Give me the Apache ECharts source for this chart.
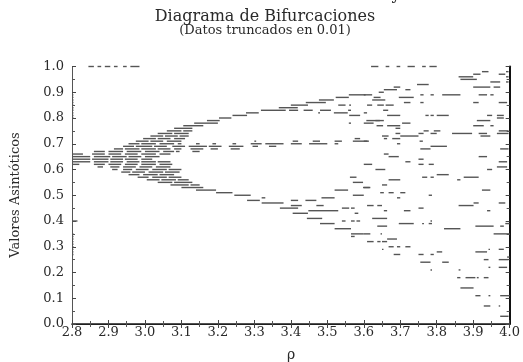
<!DOCTYPE html>
<html>
<head>
<meta charset="utf-8">
<script src="https://cdn.jsdelivr.net/npm/echarts@6/dist/echarts.min.js"></script>
<style>
  html, body { margin: 0; padding: 0; background: #fff; }
  #chart { width: 523px; height: 362px; }
</style>
</head>
<body>
<div id="chart"></div>
<script>
// Logistic-map style bifurcation data, values truncated to 0.01.
// Each entry is a run of consecutive ρ with the same truncated value: [ρ start, ρ end, value]

const rhoRange = [2.8, 4.0];
const valueRange = [0.0, 1.0];

// transient iterates sitting on ρ = 2.80
const edgeColumn = [
  [2.800, 2.804, 0.89], [2.800, 2.804, 0.88], [2.800, 2.804, 0.87], [2.800, 2.804, 0.86],
  [2.800, 2.804, 0.85], [2.800, 2.804, 0.84], [2.800, 2.804, 0.83], [2.800, 2.804, 0.82],
  [2.800, 2.804, 0.81], [2.800, 2.804, 0.80],
  [2.800, 2.815, 0.40],
  [2.800, 2.804, 0.35], [2.800, 2.804, 0.34], [2.800, 2.804, 0.33], [2.800, 2.804, 0.32],
  [2.800, 2.804, 0.31], [2.800, 2.804, 0.30], [2.800, 2.804, 0.29], [2.800, 2.804, 0.28],
  [2.800, 2.804, 0.27]
];

// iterates reaching the top of the range
const topEdge = [
  [2.845, 2.860, 1.0], [2.870, 2.880, 1.0], [2.890, 2.905, 1.0], [2.915, 2.925, 1.0],
  [2.940, 2.950, 1.0], [2.960, 2.985, 1.0],
  [3.620, 3.640, 1.0], [3.660, 3.670, 1.0], [3.690, 3.700, 1.0], [3.720, 3.740, 1.0],
  [3.760, 3.770, 1.0], [3.780, 3.800, 1.0]
];

// slowly converging transients around the fixed point and first doubling
const fanUpper = [
  [2.800, 2.830, 0.66], [2.855, 2.890, 0.66], [2.900, 2.935, 0.66], [2.945, 2.980, 0.66], [2.990, 3.030, 0.66], [3.040, 3.070, 0.66],
  [2.860, 2.890, 0.67], [2.900, 2.940, 0.67], [2.950, 2.990, 0.67], [3.000, 3.040, 0.67], [3.050, 3.080, 0.67],
  [2.915, 2.940, 0.68], [2.945, 2.985, 0.68], [2.990, 3.030, 0.68], [3.035, 3.070, 0.68],
  [2.940, 2.970, 0.69], [2.975, 3.020, 0.69], [3.025, 3.060, 0.69],
  [2.955, 2.985, 0.70], [2.990, 3.030, 0.70], [3.040, 3.080, 0.70],
  [2.975, 3.010, 0.71], [3.015, 3.050, 0.71], [3.060, 3.100, 0.71],
  [2.995, 3.030, 0.72], [3.035, 3.070, 0.72], [3.080, 3.110, 0.72],
  [3.015, 3.050, 0.73], [3.055, 3.090, 0.73], [3.095, 3.120, 0.73],
  [3.035, 3.075, 0.74], [3.080, 3.120, 0.74],
  [3.060, 3.100, 0.75], [3.105, 3.130, 0.75],
  [3.080, 3.130, 0.76],
  [3.105, 3.160, 0.77],
  [3.135, 3.200, 0.78]
];

const fanLower = [
  [2.800, 2.850, 0.65], [2.860, 2.905, 0.65], [2.910, 2.950, 0.65], [2.955, 2.990, 0.65], [3.000, 3.040, 0.65],
  [2.800, 2.850, 0.64], [2.855, 2.900, 0.64], [2.905, 2.940, 0.64], [2.945, 2.980, 0.64], [2.990, 3.020, 0.64],
  [2.800, 2.850, 0.63], [2.860, 2.900, 0.63], [2.905, 2.940, 0.63], [2.950, 2.985, 0.63], [2.990, 3.030, 0.63], [3.035, 3.070, 0.63],
  [2.800, 2.820, 0.62], [2.860, 2.890, 0.62], [2.900, 2.935, 0.62], [2.945, 2.980, 0.62], [2.990, 3.030, 0.62], [3.040, 3.075, 0.62],
  [2.870, 2.885, 0.61], [2.905, 2.930, 0.61], [2.940, 2.975, 0.61], [2.985, 3.020, 0.61], [3.030, 3.070, 0.61],
  [2.910, 2.925, 0.60], [2.940, 2.965, 0.60], [2.975, 3.010, 0.60], [3.020, 3.060, 0.60], [3.065, 3.100, 0.60],
  [2.935, 2.960, 0.59], [2.965, 3.000, 0.59], [3.010, 3.050, 0.59], [3.055, 3.095, 0.59],
  [2.955, 2.985, 0.58], [2.995, 3.035, 0.58], [3.040, 3.080, 0.58],
  [2.980, 3.010, 0.57], [3.020, 3.060, 0.57], [3.065, 3.100, 0.57],
  [3.005, 3.040, 0.56], [3.045, 3.085, 0.56], [3.090, 3.120, 0.56],
  [3.035, 3.075, 0.55], [3.080, 3.130, 0.55],
  [3.070, 3.120, 0.54], [3.125, 3.150, 0.54],
  [3.100, 3.160, 0.53],
  [3.140, 3.195, 0.52]
];

// upper branch of the 2-cycle and its doublings
const upperBranch = [
  [3.170, 3.205, 0.79], [3.203, 3.237, 0.80], [3.240, 3.280, 0.81], [3.277, 3.312, 0.82],
  [3.318, 3.386, 0.83], [3.367, 3.419, 0.84], [3.400, 3.447, 0.85], [3.441, 3.496, 0.86],
  [3.477, 3.518, 0.87], [3.523, 3.559, 0.88], [3.559, 3.605, 0.89],
  [3.395, 3.420, 0.83], [3.435, 3.460, 0.83], [3.480, 3.510, 0.83],
  [3.475, 3.480, 0.82], [3.518, 3.556, 0.82], [3.530, 3.550, 0.85], [3.560, 3.565, 0.85],
  [3.557, 3.565, 0.83], [3.560, 3.590, 0.81], [3.559, 3.565, 0.78]
];

// unstable fixed point neighbourhood
const middleBand = [
  [3.075, 3.110, 0.69], [3.080, 3.100, 0.68], [3.085, 3.095, 0.67], [3.090, 3.100, 0.70],
  [3.120, 3.170, 0.69], [3.125, 3.160, 0.68], [3.130, 3.150, 0.67], [3.140, 3.150, 0.70],
  [3.175, 3.210, 0.69], [3.180, 3.200, 0.68], [3.185, 3.195, 0.70],
  [3.230, 3.270, 0.69], [3.235, 3.260, 0.68], [3.240, 3.250, 0.70],
  [3.290, 3.320, 0.70], [3.295, 3.310, 0.69], [3.300, 3.305, 0.71],
  [3.330, 3.380, 0.70], [3.340, 3.360, 0.69],
  [3.400, 3.430, 0.70], [3.405, 3.420, 0.71],
  [3.450, 3.500, 0.70], [3.460, 3.480, 0.71],
  [3.520, 3.540, 0.71], [3.520, 3.530, 0.70],
  [3.570, 3.610, 0.71], [3.575, 3.590, 0.72]
];

// lower branch of the 2-cycle and its doublings
const lowerBranch = [
  [3.195, 3.240, 0.51], [3.245, 3.290, 0.50], [3.280, 3.315, 0.48], [3.320, 3.380, 0.47],
  [3.370, 3.420, 0.45], [3.405, 3.447, 0.43], [3.444, 3.486, 0.41], [3.480, 3.520, 0.39],
  [3.520, 3.565, 0.37], [3.565, 3.600, 0.35],
  [3.320, 3.330, 0.49], [3.448, 3.530, 0.44], [3.400, 3.430, 0.46], [3.470, 3.490, 0.46],
  [3.440, 3.470, 0.48], [3.400, 3.420, 0.48], [3.484, 3.520, 0.49], [3.520, 3.557, 0.52],
  [3.540, 3.560, 0.45], [3.565, 3.575, 0.45], [3.575, 3.585, 0.43],
  [3.540, 3.550, 0.40], [3.565, 3.575, 0.40], [3.580, 3.590, 0.40],
  [3.565, 3.575, 0.34], [3.570, 3.600, 0.50], [3.562, 3.580, 0.57], [3.570, 3.598, 0.55],
  [3.598, 3.616, 0.53]
];

// chaotic regime, upper half
const chaosUpper = [
  [3.860, 3.900, 0.96], [3.865, 3.910, 0.95], [3.924, 3.942, 0.98], [3.900, 3.920, 0.97],
  [3.947, 3.974, 0.94], [3.970, 3.988, 0.97], [3.990, 3.997, 0.94], [3.990, 3.997, 0.96],
  [3.990, 3.997, 0.98], [3.746, 3.778, 0.93], [3.655, 3.691, 0.91], [3.682, 3.700, 0.92],
  [3.714, 3.728, 0.91], [3.600, 3.623, 0.89], [3.641, 3.655, 0.90], [3.696, 3.737, 0.88],
  [3.755, 3.764, 0.89], [3.783, 3.792, 0.89], [3.815, 3.865, 0.89], [3.900, 3.947, 0.92],
  [3.956, 3.974, 0.92], [3.915, 3.938, 0.89], [3.947, 3.956, 0.89], [3.623, 3.659, 0.87],
  [3.627, 3.646, 0.88], [3.609, 3.623, 0.85], [3.637, 3.655, 0.85], [3.710, 3.728, 0.86],
  [3.755, 3.764, 0.86], [3.900, 3.915, 0.86], [3.970, 3.993, 0.86], [3.660, 3.682, 0.85],
  [3.664, 3.700, 0.81], [3.769, 3.778, 0.81], [3.783, 3.792, 0.81], [3.800, 3.833, 0.81],
  [3.938, 3.952, 0.81], [3.965, 3.984, 0.81], [3.965, 3.984, 0.80], [3.600, 3.609, 0.82],
  [3.632, 3.655, 0.79], [3.600, 3.627, 0.78], [3.910, 3.947, 0.79], [3.705, 3.728, 0.78],
  [3.664, 3.700, 0.77], [3.687, 3.700, 0.76], [3.900, 3.929, 0.77], [3.947, 3.956, 0.77],
  [3.764, 3.778, 0.75], [3.792, 3.810, 0.75], [3.970, 3.997, 0.75], [3.650, 3.668, 0.73],
  [3.687, 3.700, 0.74], [3.700, 3.750, 0.73], [3.750, 3.764, 0.74], [3.783, 3.800, 0.74],
  [3.842, 3.897, 0.74], [3.915, 3.938, 0.74], [3.965, 3.997, 0.74], [3.600, 3.614, 0.71],
  [3.655, 3.664, 0.72], [3.678, 3.700, 0.72], [3.920, 3.947, 0.73], [3.755, 3.783, 0.68],
  [3.783, 3.828, 0.69], [3.691, 3.700, 0.70], [3.668, 3.696, 0.65], [3.655, 3.668, 0.66],
  [3.750, 3.764, 0.64], [3.915, 3.938, 0.65], [3.970, 3.993, 0.63], [3.974, 3.997, 0.68],
  [3.600, 3.623, 0.62], [3.632, 3.659, 0.60], [3.714, 3.728, 0.63], [3.750, 3.764, 0.62],
  [3.778, 3.792, 0.62], [3.800, 3.833, 0.58], [3.874, 3.915, 0.57], [3.938, 3.952, 0.60],
  [3.965, 3.993, 0.61], [3.668, 3.700, 0.56], [3.760, 3.774, 0.57], [3.783, 3.792, 0.57],
  [3.600, 3.618, 0.53], [3.650, 3.664, 0.54], [3.856, 3.865, 0.56], [3.924, 3.947, 0.52],
  [3.700, 3.714, 0.51], [3.607, 3.644, 0.79], [3.635, 3.653, 0.77], [3.653, 3.667, 0.83],
  [3.753, 3.762, 0.71]
];

// chaotic regime, lower half
const chaosLower = [
  [3.645, 3.655, 0.51], [3.668, 3.682, 0.51], [3.691, 3.700, 0.49], [3.778, 3.787, 0.50],
  [3.609, 3.627, 0.46], [3.637, 3.650, 0.46], [3.655, 3.664, 0.44], [3.710, 3.728, 0.44],
  [3.750, 3.764, 0.45], [3.860, 3.901, 0.46], [3.901, 3.915, 0.47], [3.938, 3.947, 0.44],
  [3.970, 3.988, 0.47], [3.623, 3.664, 0.41], [3.637, 3.664, 0.38], [3.696, 3.737, 0.39],
  [3.760, 3.765, 0.39], [3.778, 3.787, 0.39], [3.783, 3.787, 0.40], [3.820, 3.865, 0.37],
  [3.906, 3.956, 0.38], [3.974, 3.984, 0.38], [3.988, 4.000, 0.39], [3.600, 3.618, 0.35],
  [3.646, 3.650, 0.35], [3.956, 4.000, 0.35], [3.609, 3.627, 0.32], [3.637, 3.646, 0.32],
  [3.650, 3.664, 0.32], [3.664, 3.691, 0.33], [3.668, 3.682, 0.30], [3.691, 3.700, 0.30],
  [3.714, 3.728, 0.30], [3.650, 3.654, 0.29], [3.682, 3.700, 0.27], [3.750, 3.764, 0.27],
  [3.783, 3.792, 0.27], [3.800, 3.815, 0.28], [3.906, 3.938, 0.28], [3.942, 3.946, 0.29],
  [3.970, 3.984, 0.29], [3.755, 3.783, 0.24], [3.815, 3.833, 0.24], [3.929, 3.942, 0.25],
  [3.970, 3.997, 0.25], [3.993, 4.000, 0.26], [3.783, 3.787, 0.21], [3.860, 3.865, 0.21],
  [3.942, 3.947, 0.22], [3.970, 3.993, 0.22], [3.856, 3.865, 0.18], [3.879, 3.906, 0.18],
  [3.910, 3.915, 0.18], [3.929, 3.942, 0.18], [3.865, 3.901, 0.14], [3.906, 3.920, 0.11],
  [3.942, 3.947, 0.11], [3.974, 4.000, 0.11], [3.929, 3.947, 0.07], [3.970, 3.974, 0.07],
  [3.974, 3.997, 0.03]
];

const seriesData = [edgeColumn, topEdge, fanUpper, fanLower, upperBranch, middleBand, lowerBranch, chaosUpper, chaosLower];

const serif = '"DejaVu Serif", "Liberation Serif", serif';
const ink = '#2a2a2a';

function drawRun(params, api) {
  const a = api.coord([api.value(0), api.value(2)]);
  const b = api.coord([api.value(1), api.value(2)]);
  return {
    type: 'rect',
    shape: { x: a[0], y: a[1] - 0.7, width: Math.max(b[0] - a[0], 1.4), height: 1.4 },
    style: { fill: '#555555' }
  };
}

const chart = echarts.init(document.getElementById('chart'), null, { renderer: 'canvas' });

const tickStyle = { inside: true, length: 4, lineStyle: { color: '#444', width: 1 } };
const minorStyle = { show: true, splitNumber: 2, length: 3, lineStyle: { color: '#555', width: 1 } };

chart.setOption({
  animation: false,
  backgroundColor: '#ffffff',
  grid: { left: 72, right: 13, top: 66.5, bottom: 38, containLabel: false },
  graphic: [
    { type: 'text', x: 396, y: 2.5, style: { text: 'y', font: '16px ' + serif, fill: ink, textAlign: 'center', textVerticalAlign: 'bottom' } },
    { type: 'text', x: 265, y: 17, style: { text: 'Diagrama de Bifurcaciones', font: '16px ' + serif, fill: ink, textAlign: 'center', textVerticalAlign: 'middle' } },
    { type: 'text', x: 265, y: 31, style: { text: '(Datos truncados en 0.01)', font: '13px ' + serif, fill: ink, textAlign: 'center', textVerticalAlign: 'middle' } },
    { type: 'text', x: 16, y: 195, rotation: Math.PI / 2, style: { text: 'Valores Asintóticos', font: '13px ' + serif, fill: ink, textAlign: 'center', textVerticalAlign: 'middle' } },
    { type: 'text', x: 291, y: 355, style: { text: 'ρ', font: '14px ' + serif, fill: ink, textAlign: 'center', textVerticalAlign: 'middle' } }
  ],
  xAxis: [
    {
      type: 'value', position: 'bottom', min: rhoRange[0], max: rhoRange[1], interval: 0.1,
      axisLine: { show: true, lineStyle: { color: '#333', width: 1 } },
      axisTick: tickStyle, minorTick: minorStyle,
      splitLine: { show: false },
      axisLabel: { margin: 2, color: ink, fontFamily: serif, fontSize: 13, formatter: v => v.toFixed(1) }
    },
    {
      type: 'value', position: 'top', min: rhoRange[0], max: rhoRange[1], interval: 0.1,
      axisLine: { show: true, lineStyle: { color: '#1a1a1a', width: 1.5 } },
      axisTick: tickStyle, minorTick: minorStyle,
      splitLine: { show: false }, axisLabel: { show: false }
    }
  ],
  yAxis: [
    {
      type: 'value', position: 'left', min: valueRange[0], max: valueRange[1], interval: 0.1,
      axisLine: { show: true, lineStyle: { color: '#555', width: 1 } },
      axisTick: tickStyle, minorTick: minorStyle,
      splitLine: { show: false },
      axisLabel: { margin: 8, color: ink, fontFamily: serif, fontSize: 13, formatter: v => v.toFixed(1) }
    },
    {
      type: 'value', position: 'right', min: valueRange[0], max: valueRange[1], interval: 0.1,
      axisLine: { show: true, lineStyle: { color: '#111', width: 2 } },
      axisTick: tickStyle, minorTick: minorStyle,
      splitLine: { show: false }, axisLabel: { show: false }
    }
  ],
  series: seriesData.map(d => ({
    type: 'custom',
    renderItem: drawRun,
    clip: false,
    encode: { x: [0, 1], y: 2 },
    data: d
  }))
});
</script>
</body>
</html>
